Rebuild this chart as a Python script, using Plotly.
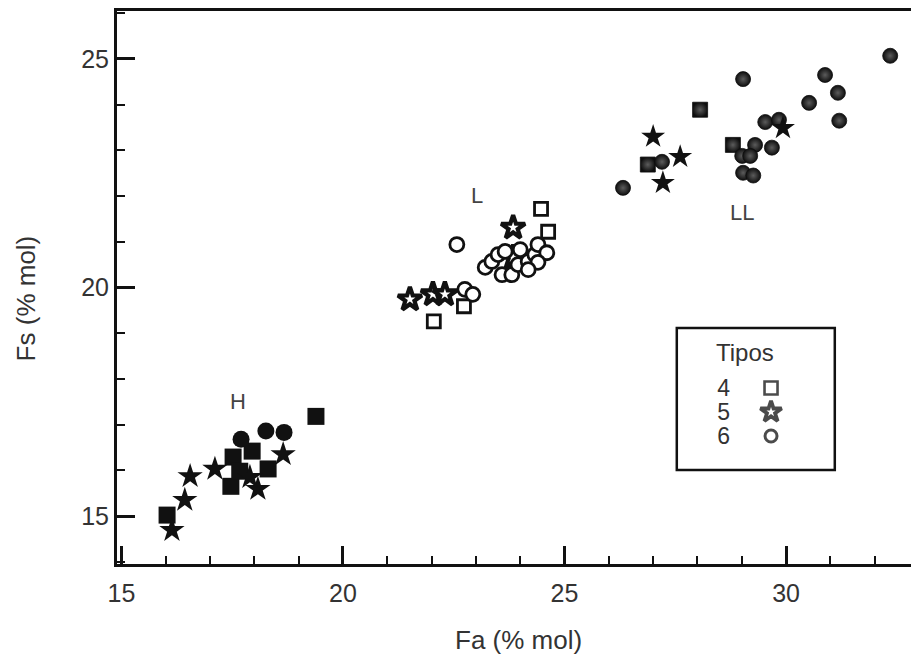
import plotly.graph_objects as go

# ---- data (Fa, Fs in % mol) ----
# Group H (filled black)
h_sq_fa = [16.03, 17.52, 17.95, 17.47, 18.31, 17.67, 19.39]
h_sq_fs = [15.02, 16.29, 16.42, 15.65, 16.03, 15.98, 17.18]
h_st_fa = [16.14, 16.43, 16.55, 17.11, 18.08, 18.65, 17.90]
h_st_fs = [14.69, 15.35, 15.87, 16.03, 15.59, 16.35, 15.85]
h_ci_fa = [17.70, 18.26, 18.67]
h_ci_fs = [16.68, 16.86, 16.83]

# Group L (open)
l_sq_fa = [24.47, 24.63, 22.73, 22.05]
l_sq_fs = [21.72, 21.22, 19.59, 19.26]
l_st_fa = [21.51, 22.03, 22.30, 23.84, 23.84]
l_st_fs = [19.74, 19.85, 19.85, 21.31, 20.66]
l_ci_fa = [22.57, 22.75, 22.93, 23.21, 23.36, 23.50, 23.66, 23.59, 23.81, 23.95,
           24.18, 24.33, 24.40, 24.60, 24.40, 24.18, 24.00]
l_ci_fs = [20.94, 19.96, 19.85, 20.44, 20.57, 20.72, 20.79, 20.28, 20.28, 20.50,
           20.57, 20.72, 20.94, 20.76, 20.55, 20.39, 20.83]

# Group LL (shaded)
ll_sq_fa = [28.06, 26.88, 28.80]
ll_sq_fs = [23.89, 22.69, 23.12]
ll_st_fa = [27.00, 27.61, 27.22, 29.93]
ll_st_fs = [23.30, 22.86, 22.29, 23.49]
ll_ci_fa = [26.32, 27.20, 29.03, 30.88, 31.17, 30.52, 31.20, 32.35, 29.53, 29.84,
            29.68, 29.30, 29.01, 29.19, 29.03, 29.26]
ll_ci_fs = [22.18, 22.75, 24.56, 24.65, 24.26, 24.04, 23.65, 25.07, 23.62, 23.67,
            23.06, 23.12, 22.88, 22.88, 22.51, 22.45]

group_labels = ["H", "L", "LL"]
group_label_fa = [17.63, 23.02, 29.0]
group_label_fs = [17.51, 22.01, 21.64]

tipos = ["4", "5", "6"]
tipo_symbols = ["square", "star", "circle"]
tipo_sizes = [13, 16, 12]

FONT = "Liberation Sans, Arial, sans-serif"
BLACK = "#111111"
TXT = "#333333"

fig = go.Figure()

def add(x, y, symbol, size, style, name):
    if style == "filled":
        marker = dict(symbol=symbol, size=size, color=BLACK, line=dict(width=0))
    elif style == "open":
        lw = 4.2 if symbol == "star" else 2.8
        marker = dict(symbol=symbol, size=size, color="white",
                      line=dict(width=lw, color=BLACK))
    else:
        marker = dict(symbol=symbol, size=size, color="#0e0e0e",
                      line=dict(width=0.8, color="#0e0e0e"),
                      gradient=dict(type="radial", color="#5c5c5c"))
    fig.add_trace(go.Scatter(x=x, y=y, mode="markers", marker=marker,
                             name=name, showlegend=False))

# H
add(h_sq_fa, h_sq_fs, "square", 17, "filled", tipos[0])
add(h_ci_fa, h_ci_fs, "circle", 17, "filled", tipos[2])
add(h_st_fa, h_st_fs, "star", 19, "filled", tipos[1])
# L
add(l_sq_fa, l_sq_fs, "square", 13, "open", tipos[0])
add(l_st_fa, l_st_fs, "star", 18, "open", tipos[1])
add(l_ci_fa, l_ci_fs, "circle", 14, "open", tipos[2])
# LL
add(ll_sq_fa, ll_sq_fs, "square", 15, "shaded", tipos[0])
add(ll_ci_fa, ll_ci_fs, "circle", 15, "shaded", tipos[2])
add(ll_st_fa, ll_st_fs, "star", 18, "filled", tipos[1])

# key ("Tipos") drawn as a small categorical inset axis
fig.add_trace(go.Scatter(
    x=[0] * len(tipos), y=tipos, mode="markers", xaxis="x2", yaxis="y2",
    marker=dict(symbol=tipo_symbols, size=tipo_sizes, color="white",
                line=dict(width=[2.6, 3.8, 3.0], color="#000000")),
    showlegend=False, hoverinfo="skip"))

for lab, xa, ya in zip(group_labels, group_label_fa, group_label_fs):
    fig.add_annotation(x=xa, y=ya, text=lab, showarrow=False,
                       font=dict(family=FONT, size=22, color="#444444"))

axis_common = dict(
    showline=True, linecolor=BLACK, linewidth=3,
    ticks="inside", ticklen=18, tickwidth=2.5, tickcolor=BLACK,
    showgrid=False, zeroline=False,
    tickfont=dict(family=FONT, size=25, color=TXT),
    minor=dict(ticks="inside", ticklen=8, tickwidth=2, tickcolor=BLACK, dtick=1),
)

fig.update_layout(
    xaxis=dict(range=[14.9, 33.0], tickvals=[15, 20, 25, 30], mirror=True,
               ticklabelstandoff=5, **axis_common),
    yaxis=dict(range=[13.95, 26.05], tickvals=[15, 20, 25], mirror=False,
               ticklabelstandoff=0, **axis_common),
    xaxis2=dict(domain=[0.798, 0.833], range=[-1, 1], visible=False,
                anchor="y2", fixedrange=True),
    yaxis2=dict(domain=[0.2098, 0.3400], anchor="x2", type="category",
                categoryorder="array", categoryarray=tipos[::-1],
                range=[-0.5, len(tipos) - 0.5], showline=False, showgrid=False,
                zeroline=False, ticks="", ticklabelstandoff=26,
                tickmode="array", tickvals=tipos, ticktext=tipos,
                tickfont=dict(family=FONT, size=23, color=TXT), fixedrange=True),
)

fig.add_shape(type="rect", xref="paper", yref="paper",
              x0=0.698, x1=0.895, y0=0.170, y1=0.4268,
              line=dict(color=BLACK, width=2.5), fillcolor="rgba(0,0,0,0)",
              layer="below")
fig.add_annotation(xref="paper", yref="paper", x=0.783, y=0.3816,
                   text="Tipos", showarrow=False, xanchor="center", yanchor="middle",
                   font=dict(family=FONT, size=24, color=TXT))

fig.add_annotation(xref="paper", yref="paper", x=0.5, y=-0.1374,
                   text="Fa (% mol)", showarrow=False, xanchor="center",
                   yanchor="middle",
                   font=dict(family=FONT, size=26, color=TXT))
fig.add_annotation(xref="paper", yref="paper", x=-0.113, y=0.481,
                   text="Fs (% mol)", showarrow=False, textangle=-90,
                   xanchor="center", yanchor="middle",
                   font=dict(family=FONT, size=26, color=TXT))

# page body has an 8px margin: figure sized so the plot lands where the reference has it
fig.update_layout(
    width=911, height=656,
    margin=dict(l=109, r=0, t=3, b=100),
    plot_bgcolor="white", paper_bgcolor="white",
)

fig.write_html("out.html")
